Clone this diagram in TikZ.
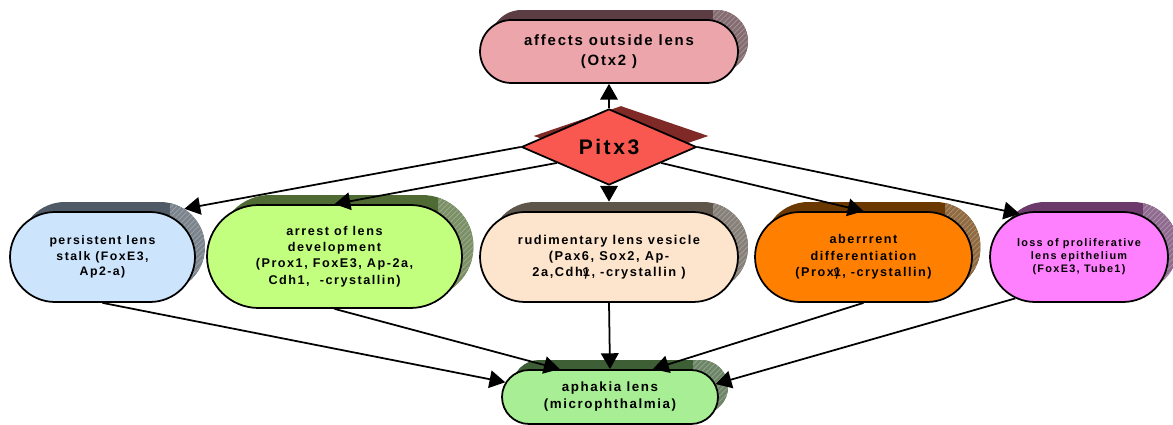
\documentclass[tikz,border=0pt]{standalone}
\usepackage{fontspec}
\setmainfont{Liberation Sans}
\newfontfamily\lbl[LetterSpace=12]{Liberation Sans}
\usetikzlibrary{shapes.misc,shapes.geometric,arrows.meta,patterns}

% gamma glyph pushed onto the following digit
\newcommand{\gov}{{\mdseries γ}\kern-0.5em}

\definecolor{topfill}{HTML}{ECA6AB}\definecolor{topsh}{HTML}{5C3D43}
\definecolor{diafill}{HTML}{F8584F}\definecolor{diash}{HTML}{7F2A27}
\definecolor{pfill}{HTML}{CCE4FC}\definecolor{psh}{HTML}{4F5A66}
\definecolor{afill}{HTML}{C3FF7E}\definecolor{ash}{HTML}{4F6B33}
\definecolor{mfill}{HTML}{FDE4CC}\definecolor{msh}{HTML}{5E554B}
\definecolor{bfill}{HTML}{FF8000}\definecolor{bsh}{HTML}{6B3800}
\definecolor{lfill}{HTML}{FF80FF}\definecolor{lsh}{HTML}{6B3A6B}
\definecolor{kfill}{HTML}{A8EE94}\definecolor{ksh}{HTML}{3E5E35}

\tikzset{
  pill/.style={rounded rectangle, draw=black, line width=1pt, fill=#1,
    inner sep=0pt, align=center, font=\lbl\bfseries},
  shade3d/.style={rounded rectangle, fill=#1, inner sep=0pt,
    path picture={
      \fill[#1!75!white] ([xshift=-0.7cm]path picture bounding box.north east)
        rectangle (path picture bounding box.south east);
      \fill[pattern=north east lines, pattern color=white!45!#1]
        ([xshift=-0.7cm]path picture bounding box.north east)
        rectangle (path picture bounding box.south east);}},
  link/.style={line width=1pt, -{Triangle[length=9pt,width=10pt]}},
}

\begin{document}
\begin{tikzpicture}[x=0.02cm,y=-0.02cm]
\useasboundingbox (0,0) rectangle (1173,425);

% extruded backs
\node[shade3d=topsh, minimum width=5.16cm, minimum height=1.26cm] (topS) at (619,41.5) {};
\node[diamond, fill=diash, inner sep=0pt, minimum width=3.5cm, minimum height=1.2cm] (diaS) at (621,136) {};
\node[shade3d=psh, minimum width=3.7cm, minimum height=1.8cm] (perS) at (112.5,247) {};
\node[shade3d=ash, minimum width=5.1cm, minimum height=2.06cm] (arrS) at (346,246.5) {};
\node[shade3d=msh, minimum width=5.16cm, minimum height=1.8cm] (midS) at (619,247) {};
\node[shade3d=bsh, minimum width=4.34cm, minimum height=1.8cm] (abeS) at (872,247) {};
\node[shade3d=lsh, minimum width=3.56cm, minimum height=1.8cm] (losS) at (1089,247) {};
\node[shade3d=ksh, minimum width=4.32cm, minimum height=1.08cm] (aphS) at (620,387) {};

% front faces
\node[pill=topfill, minimum width=5.16cm, minimum height=1.26cm,
  font=\lbl\bfseries\fontsize{8.5}{11}\selectfont] (top) at (609,51.5)
  {affects outside lens\\(Otx2 )};
\node[diamond, draw=black, line width=1pt, fill=diafill, inner sep=0pt,
  minimum width=3.5cm, minimum height=1.2cm,
  font=\lbl\bfseries\fontsize{12}{14}\selectfont] (dia) at (609,147) {Pitx3};
\node[pill=pfill, minimum width=3.7cm, minimum height=1.8cm,
  font=\lbl\bfseries\fontsize{7}{9}\selectfont] (per) at (102.5,257)
  {persistent lens\\stalk (FoxE3,\\Ap2-a)};
\node[pill=afill, minimum width=5.1cm, minimum height=2.06cm,
  font=\lbl\bfseries\fontsize{7.2}{9.3}\selectfont] (arr) at (334.5,256.5)
  {arrest of lens\\development\\(Prox1, FoxE3, Ap-2a,\\Cdh1,\ \ -crystallin)};
\node[pill=mfill, minimum width=5.16cm, minimum height=1.8cm,
  font=\lbl\bfseries\fontsize{7.3}{9.1}\selectfont] (mid) at (609,257)
  {rudimentary lens vesicle\\(Pax6, Sox2, Ap-\\2a,Cdh\gov1, -crystallin )};
\node[pill=bfill, minimum width=4.34cm, minimum height=1.8cm,
  font=\lbl\bfseries\fontsize{7.2}{9.3}\selectfont] (abe) at (863.5,257)
  {aberrrent\\differentiation\\(Prox\gov1, -crystallin)};
\node[pill=lfill, minimum width=3.56cm, minimum height=1.8cm,
  font=\lbl\bfseries\fontsize{6.2}{7.5}\selectfont] (los) at (1079,257)
  {loss of proliferative\\lens epithelium\\(FoxE3, Tube1)};
\node[pill=kfill, minimum width=4.32cm, minimum height=1.08cm,
  font=\lbl\bfseries\fontsize{7.6}{9.7}\selectfont] (aph) at (610,397)
  {aphakia lens\\(microphthalmia)};

% connectors from Pitx3
\draw[link] (dia.north) -- (top.south);
\draw[link] (dia.west) -- (perS.28);
\draw[link] (dia.197) -- (arr.north);
\draw[link] (dia.south) -- (dia.south |- midS.north);
\draw[link] (dia.-17) -- (abe.north);
\draw[link] (dia.east) -- (los.144);

% connectors into the aphakia node
\draw[link] (per.south) -- (aph.172);
\draw[link] (arr.south) -- (aph.151);
\draw[link] (mid.south) -- (aph.north);
\draw[link] (abe.south) -- (aph.33);
\draw[link] (los.213) -- (aph.7.5);
\end{tikzpicture}
\end{document}
